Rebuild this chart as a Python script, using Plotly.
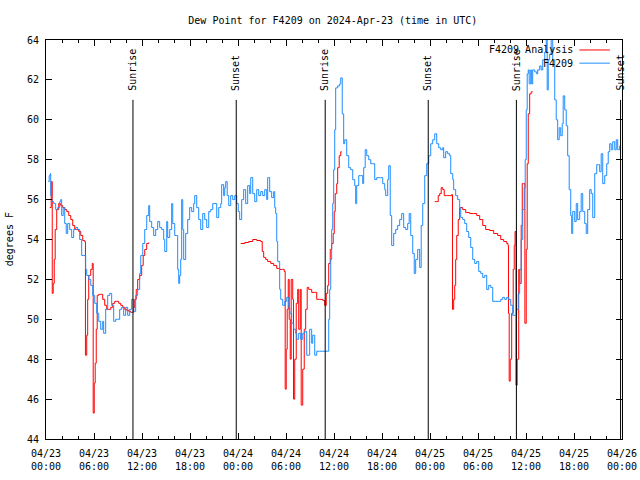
import pandas as pd
import plotly.graph_objects as go

start = pd.Timestamp("2024-04-23 00:00")

# F4209 observations (hours since 2024-04-23 00:00 UTC, degrees F)
obs_hours = [0.28, 0.4, 0.53, 0.59, 0.71, 0.96, 1.21, 1.46, 1.71, 1.84, 1.96, 2.15, 2.34, 2.53, 2.71, 2.96,
             3.21, 3.46, 3.71, 3.96, 4.21, 4.46, 4.71, 4.96, 5.09, 5.34, 5.59, 5.84, 6.09, 6.34, 6.59, 6.84,
             7.09, 7.21, 7.46, 7.71, 7.96, 8.21, 8.46, 8.71, 8.96, 9.21, 9.46, 9.71, 9.96, 10.21, 10.46, 10.71,
             10.96, 11.21, 11.46, 11.71, 11.84, 12.09, 12.34, 12.59, 12.84, 12.96, 13.21, 13.46, 13.71, 13.96,
             14.21, 14.46, 14.71, 14.84, 15.09, 15.21, 15.46, 15.71, 15.84, 16.09, 16.34, 16.46, 16.59, 16.71,
             16.84, 16.96, 17.09, 17.21, 17.46, 17.71, 17.96, 18.21, 18.46, 18.59, 18.84, 19.09, 19.34, 19.59,
             19.84, 20.09, 20.34, 20.59, 20.84, 21.09, 21.34, 21.59, 21.84, 21.96, 22.21, 22.34, 22.46, 22.65,
             22.84, 23.09, 23.34, 23.59, 23.84, 24.03, 24.21, 24.46, 24.71, 24.96, 25.21, 25.46, 25.59, 25.84,
             26.09, 26.34, 26.59, 26.84, 27.09, 27.34, 27.59, 27.71, 27.96, 28.21, 28.46, 28.59, 28.71, 28.84,
             28.96, 29.21, 29.34, 29.59, 29.84, 30.09, 30.34, 30.46, 30.71, 30.96, 31.21, 31.34, 31.59, 31.84,
             32.09, 32.34, 32.59, 32.84, 32.96, 33.21, 33.34, 33.59, 33.84, 34.21, 34.59, 34.96, 35.21, 35.34,
             35.46, 35.59, 35.71, 35.84, 35.96, 36.09, 36.21, 36.46, 36.71, 36.84, 37.03, 37.21, 37.34, 37.59,
             37.84, 38.09, 38.34, 38.59, 38.71, 38.84, 39.09, 39.34, 39.59, 39.71, 39.9, 40.09, 40.34, 40.59,
             40.84, 41.09, 41.34, 41.59, 41.84, 42.09, 42.34, 42.46, 42.71, 42.84, 43.03, 43.21, 43.46, 43.71,
             43.96, 44.21, 44.46, 44.71, 44.96, 45.21, 45.4, 45.59, 45.84, 46.03, 46.21, 46.46, 46.71, 46.9,
             47.09, 47.34, 47.59, 47.84, 48.09, 48.34, 48.59, 48.84, 49.09, 49.34, 49.59, 49.71, 49.96, 50.21,
             50.46, 50.59, 50.84, 50.96, 51.21, 51.46, 51.71, 51.84, 52.09, 52.34, 52.59, 52.84, 53.09, 53.34,
             53.59, 53.84, 54.09, 54.34, 54.59, 54.84, 55.09, 55.34, 55.59, 55.84, 56.21, 56.59, 56.84, 57.09,
             57.34, 57.59, 57.84, 58.09, 58.34, 58.59, 58.84, 59.03, 59.21, 59.4, 59.59, 59.78, 59.9, 60.03,
             60.15, 60.28, 60.4, 60.59, 60.71, 60.84, 61.09, 61.34, 61.46, 61.71, 61.9, 62.09, 62.34, 62.53,
             62.65, 62.78, 62.96, 63.15, 63.34, 63.59, 63.78, 63.96, 64.15, 64.34, 64.53, 64.65, 64.84, 65.03,
             65.21, 65.4, 65.59, 65.71, 65.84, 66.09, 66.28, 66.46, 66.71, 66.9, 67.09, 67.34, 67.53, 67.71,
             67.96, 68.15, 68.34, 68.59, 68.84, 69.09, 69.21, 69.4, 69.59, 69.84, 70.09, 70.28, 70.46, 70.65,
             70.84, 71.09, 71.28, 71.46, 71.71]
obs_values = [56.9, 57.2, 57.3, 56.2, 55.9, 55.8, 55.5, 55.6, 55.9, 56.0, 55.2, 55.6, 54.8, 54.3, 54.8, 54.5,
              54.1, 54.5, 54.6, 54.5, 54.0, 53.2, 53.2, 52.5, 52.2, 52.0, 51.7, 51.2, 50.8, 50.3, 49.9, 49.5,
              49.9, 49.3, 50.5, 51.2, 51.3, 50.7, 49.9, 50.0, 50.0, 50.5, 50.6, 50.2, 50.6, 50.2, 50.5, 51.0,
              50.4, 51.2, 51.5, 52.3, 53.2, 53.8, 54.5, 55.2, 55.7, 54.9, 54.6, 54.2, 54.5, 54.9,
              54.6, 54.5, 54.0, 53.4, 54.9, 54.1, 54.5, 55.8, 54.8, 54.2, 54.2, 52.5, 51.8, 52.2,
              53.0, 56.0, 54.5, 53.0, 54.3, 55.0, 55.6, 55.4, 55.8, 56.2, 55.6, 55.0, 54.5, 55.3,
              55.0, 54.6, 55.4, 55.5, 55.8, 55.8, 55.1, 55.6, 55.8, 56.75, 56.2, 56.6, 56.9, 56.2,
              55.7, 56.2, 56.0, 56.2, 55.8, 55.4, 55.0, 56.0, 56.5, 55.8, 56.7, 56.3, 57.1, 56.3,
              55.9, 56.5, 56.2, 56.4, 56.2, 56.5, 56.0, 57.1, 56.4, 56.1, 56.4, 55.6, 55.3, 53.9,
              52.9, 51.5, 51.0, 50.7, 50.9, 51.1, 50.6, 50.3, 49.8, 49.5, 49.3, 49.0, 49.3, 49.0,
              49.3, 49.4, 48.2, 48.2, 49.5, 48.8, 49.2, 48.2, 48.4, 48.4, 48.4, 48.4, 48.4, 50.0,
              51.5, 53.0, 54.5, 55.8, 57.5, 59.5, 61.6, 61.7, 61.8, 62.1, 60.3, 58.8, 59.0, 58.2,
              57.6, 57.5, 57.0, 56.7, 55.8, 56.7, 57.2, 57.2, 56.8, 57.6, 58.5, 58.2, 58.0, 57.8,
              57.8, 57.0, 57.1, 57.1, 57.1, 56.8, 56.5, 56.2, 57.0, 57.7, 55.2, 53.7, 54.3, 54.5,
              54.7, 55.0, 55.3, 54.6, 54.5, 54.8, 55.3, 54.2, 53.3, 52.3, 53.0, 53.5, 52.6, 54.7,
              55.8, 57.2, 57.8, 58.2, 58.8, 59.0, 59.3, 58.8, 58.6, 58.5, 58.6, 58.1, 58.4, 58.3,
              58.2, 57.3, 57.0, 56.5, 56.2, 56.0, 55.6, 55.1, 55.0, 54.8, 54.4, 54.1, 53.6, 53.0,
              52.8, 52.9, 52.4, 52.3, 52.1, 52.2, 51.5, 51.7, 51.6, 50.9, 50.9, 50.9, 51.0, 51.1,
              51.0, 51.1, 51.0, 50.7, 50.2, 50.2, 50.5, 51.3, 52.5, 54.0, 55.5, 56.6, 58.0, 60.5,
              62.3, 62.5, 61.8, 62.5, 61.8, 62.5, 62.4, 62.3, 62.5, 62.7, 62.5, 63.0, 63.4, 64.3,
              61.5, 63.0, 63.3, 64.3, 63.0, 61.0, 60.0, 59.0, 59.6, 59.2, 59.8, 61.2, 60.5, 59.7,
              58.2, 56.5, 55.2, 54.3, 55.4, 54.9, 55.8, 55.0, 55.4, 56.3, 55.4, 54.8, 54.3, 55.5,
              56.5, 56.3, 55.1, 57.3, 57.75, 57.75, 57.4, 58.3, 56.8, 57.2, 57.8, 58.4, 58.8, 58.5,
              58.9, 58.5, 59.0, 58.5, 58.7]

# F4209 Analysis (None = no analysis available)
ana_hours = [0.46, 0.65, 0.78, 0.9, 1.03, 1.15, 1.34, 1.59, 1.84, 2.09, 2.34, 2.59, 2.84, 3.09, 3.34, 3.59,
             3.84, 4.09, 4.34, 4.59, 4.84, 4.93, 5.09, 5.21, 5.34, 5.59, 5.78, 5.9, 6.03, 6.15, 6.28, 6.4,
             6.59, 6.84, 7.09, 7.34, 7.59, 7.84, 8.09, 8.34, 8.59, 8.84, 9.09, 9.34, 9.59, 9.84, 10.09, 10.34,
             10.59, 10.84, 10.96, 11.09, 11.28, 11.46, 11.71, 11.96, 12.15, 12.34, 12.59, 12.84,
             18.0,
             24.34, 24.84, 25.34, 25.84, 26.34, 26.84, 27.03, 27.21, 27.46, 27.71, 28.09, 28.46, 28.84, 29.21,
             29.59, 29.78, 29.9, 30.03, 30.15, 30.28, 30.4, 30.53, 30.65, 30.84, 30.94, 31.09, 31.28, 31.46,
             31.59, 31.78, 31.9, 32.09, 32.28, 32.46, 32.65, 32.84, 33.21, 33.59, 33.84, 34.21, 34.59, 34.84,
             35.03, 35.21, 35.34, 35.53, 35.71, 35.9, 36.03, 36.15, 36.34, 36.46, 36.65, 36.84, 36.96,
             42.0,
             48.59, 48.84, 49.03, 49.21, 49.4, 49.59, 49.78, 50.09, 50.46, 50.71, 50.81, 50.96, 51.09, 51.21,
             51.34, 51.53, 51.71, 52.09, 52.46, 52.96, 53.46, 53.84, 54.21, 54.59, 54.96, 55.46, 55.96, 56.46,
             56.84, 57.21, 57.59, 57.75, 57.81, 57.9, 58.03, 58.21, 58.4, 58.53, 58.63, 58.75, 58.9, 59.09,
             59.21, 59.4, 59.53, 59.71, 59.86, 60.03, 60.15, 60.28, 60.46, 60.65, 60.84]
ana_values = [55.6, 56.9, 51.3, 51.8, 53.0, 54.5, 55.5, 55.8, 55.7, 55.6, 55.5, 55.4, 55.2, 55.0, 54.7, 54.5,
              54.5, 54.4, 54.2, 53.95, 53.9, 48.2, 49.2, 51.0, 52.2, 52.5, 52.8, 45.3, 46.8, 47.8, 49.5, 51.2,
              51.25, 51.25, 51.0, 50.7, 50.5, 50.5, 50.6, 50.8, 50.9, 50.9, 50.8, 50.7, 50.6, 50.5, 50.45, 50.4,
              50.35, 50.35, 50.6, 51.0, 51.5, 52.0, 52.2, 52.7, 53.2, 53.5, 53.8, 53.85,
              None,
              53.8, 53.85, 53.9, 54.0, 53.95, 53.9, 53.4, 53.1, 53.0, 52.9, 52.8, 52.7, 52.55, 52.5,
              52.5, 52.4, 46.5, 48.5, 50.5, 52.0, 50.0, 48.0, 52.0, 51.0, 46.0, 48.0, 50.8, 51.5,
              49.5, 51.5, 45.7, 47.5, 49.5, 50.5, 51.6, 51.5, 51.35, 51.35, 51.0, 51.0, 50.95, 50.7,
              51.3, 51.7, 52.8, 53.5, 53.8, 54.3, 55.4, 56.3, 56.8, 57.6, 58.2, 58.4, 58.4,
              None,
              55.9, 55.9, 56.2, 56.3, 56.6, 56.5, 56.2, 56.2, 56.2, 56.25, 50.5, 51.0, 51.7, 53.0,
              54.2, 55.0, 55.6, 55.5, 55.35, 55.3, 55.3, 55.2, 55.0, 54.7, 54.5, 54.45, 54.3, 54.2,
              54.0, 53.9, 53.8, 53.7, 50.3, 46.9, 48.0, 50.3, 52.5, 53.7, 54.4, 46.7, 48.0, 52.5,
              51.8, 54.7, 56.8, 56.8, 49.8, 53.5, 57.8, 60.3, 61.3, 61.4, 61.4]

# Sun events (hours since start)
sun_hours = [10.87, 23.78, 34.9, 47.78, 58.8, 71.82]
sun_labels = ["Sunrise", "Sunset", "Sunrise", "Sunset", "Sunrise", "Sunset"]

tick_hours = list(range(0, 73, 6))

def to_time(hours):
    return [start + pd.Timedelta(hours=h) for h in hours]

FONT = "DejaVu Sans Mono"
fig = go.Figure()
fig.add_trace(go.Scatter(x=to_time(ana_hours), y=ana_values, mode="lines",
                         line=dict(color="#ff0000", width=1, shape="hv"),
                         connectgaps=False, name="F4209 Analysis", showlegend=False))
fig.add_trace(go.Scatter(x=to_time(obs_hours), y=obs_values, mode="lines",
                         line=dict(color="#1e8cff", width=1, shape="hv"),
                         name="F4209", showlegend=False))

sun_times = to_time(sun_hours)
for t, lab in zip(sun_times, sun_labels):
    fig.add_shape(type="line", xref="x", yref="y", x0=t, x1=t, y0=44, y1=61,
                  line=dict(color="black", width=1))
    fig.add_annotation(x=t, y=61.35, xref="x", yref="y", text=lab, textangle=-90,
                       showarrow=False, xanchor="center", yanchor="bottom",
                       font=dict(family=FONT, size=10, color="black"))

# legend drawn gnuplot-style (text then sample line)
legend_names = ["F4209 Analysis", "F4209"]
legend_colors = ["#ff0000", "#1e8cff"]
legend_y = [0.975, 0.942]
for name, col, ly in zip(legend_names, legend_colors, legend_y):
    fig.add_annotation(x=0.919, y=ly, xref="paper", yref="paper", text=name,
                       showarrow=False, xanchor="right", yanchor="middle",
                       font=dict(family=FONT, size=10, color="black"))
    fig.add_shape(type="line", xref="paper", yref="paper", x0=0.926, x1=0.979,
                  y0=ly, y1=ly, line=dict(color=col, width=1))

fig.add_annotation(x=-0.063, y=0.5, xref="paper", yref="paper", text="degrees F",
                   textangle=-90, showarrow=False, xanchor="center", yanchor="middle",
                   font=dict(family=FONT, size=10, color="black"))

fig.update_layout(
    width=640, height=480,
    margin=dict(l=46, r=18, t=40, b=41, autoexpand=False),
    paper_bgcolor="white", plot_bgcolor="white",
    font=dict(family=FONT, size=10, color="black"),
    title=dict(text="Dew Point for F4209 on 2024-Apr-23 (time in UTC)",
               x=0.52, xanchor="center", y=0.958, yanchor="middle", yref="container",
               font=dict(family=FONT, size=10, color="black")),
    showlegend=False,
)
fig.update_xaxes(
    type="date", range=[start, start + pd.Timedelta(hours=72)],
    tickvals=to_time(tick_hours), tickformat="%m/%d<br>%H:%M",
    ticks="inside", ticklen=6, tickcolor="black", tickwidth=1,
    minor=dict(dtick=2 * 3600 * 1000, ticks="inside", ticklen=3, tickcolor="black"),
    showline=True, linecolor="black", linewidth=1, mirror="ticks",
    showgrid=False, zeroline=False, ticklabelstandoff=5, automargin=False,
    tickfont=dict(family=FONT, size=10, color="black"),
)
fig.update_yaxes(
    range=[44, 64], dtick=2, tick0=44,
    ticks="inside", ticklen=6, tickcolor="black", tickwidth=1,
    showline=True, linecolor="black", linewidth=1, mirror="ticks",
    showgrid=False, zeroline=False, ticklabelstandoff=4, automargin=False,
    tickfont=dict(family=FONT, size=10, color="black"),
)

fig.write_html("out.html", config={"displayModeBar": False},
               post_script="document.body.style.margin='0';document.body.style.padding='0';")
